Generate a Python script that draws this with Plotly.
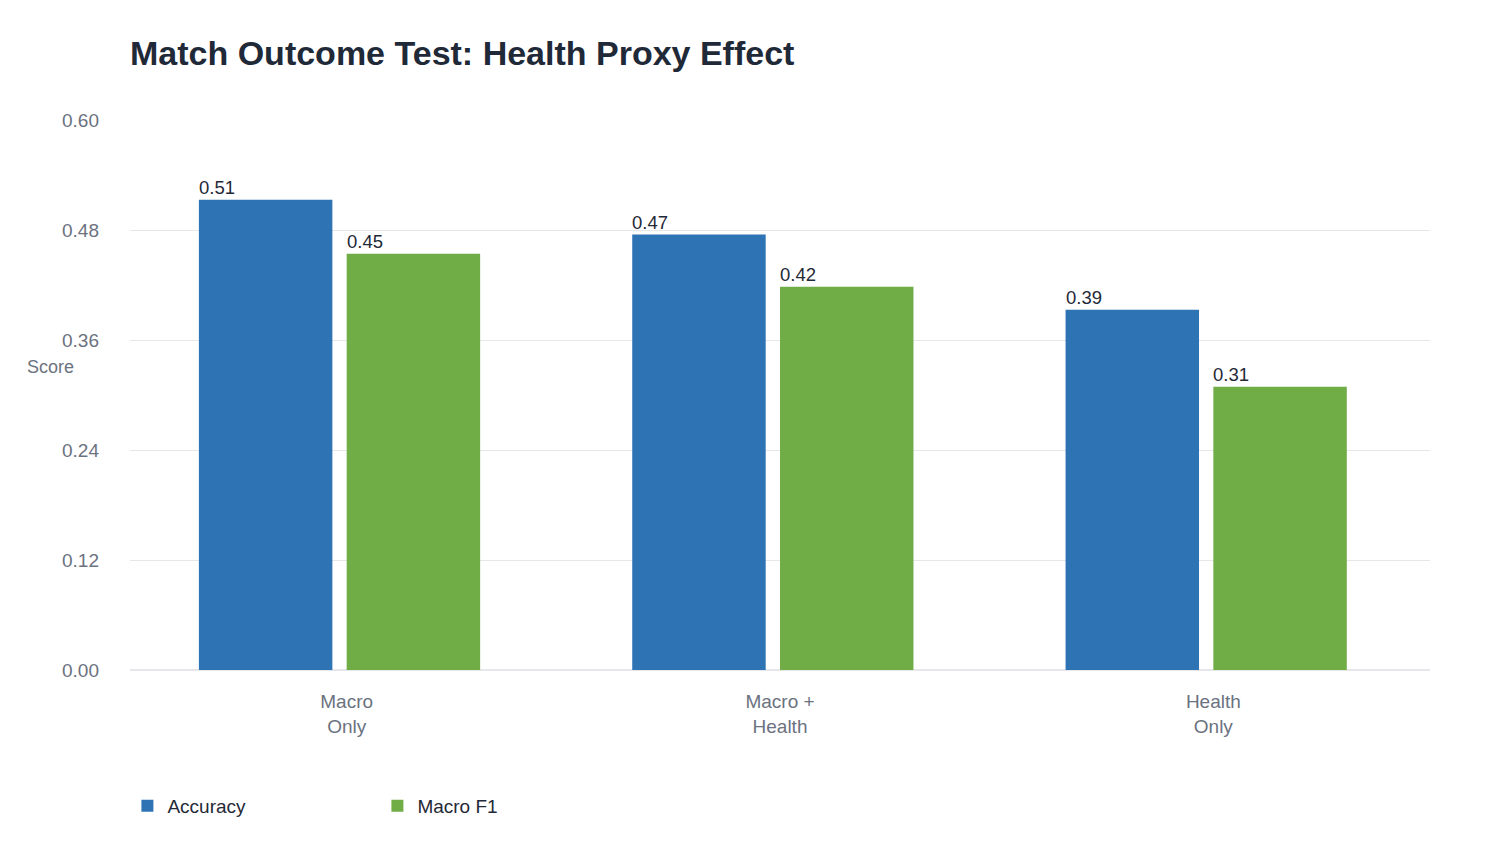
import plotly.graph_objects as go

# Dados do gráfico
categorias = ["Macro<br>Only", "Macro +<br>Health", "Health<br>Only"]
acuracia = [0.513, 0.475, 0.393]
macro_f1 = [0.454, 0.418, 0.309]
series = [("Accuracy", acuracia, "#2E74B5"), ("Macro F1", macro_f1, "#70AD47")]

FONTE = "Liberation Sans, Arial, sans-serif"

fig = go.Figure()

# Barras (deslocamento manual para imitar o agrupamento original)
deslocamentos = [-0.341, 0.0]
for (nome, valores, cor), desl in zip(series, deslocamentos):
    fig.add_trace(go.Bar(
        x=categorias,
        y=valores,
        name=nome,
        marker=dict(color=cor, line=dict(width=0)),
        offset=desl,
        width=0.308,
    ))
    # Rótulos alinhados à esquerda de cada barra
    for cat, v in zip(categorias, valores):
        fig.add_annotation(
            x=cat, y=v, text=f"{v:.2f}",
            showarrow=False, xanchor="left", yanchor="bottom",
            xshift=desl * 433.3 - 2, yshift=0,
            font=dict(family=FONTE, size=18.5, color="#1f2937"),
        )

# Título do eixo Y na horizontal
fig.add_annotation(
    text="Score", xref="paper", yref="paper", x=-0.061, y=0.551,
    showarrow=False, xanchor="center", yanchor="middle",
    font=dict(family=FONTE, size=18, color="#6b7280"),
)

fig.update_layout(
    title=dict(
        text="<b>Match Outcome Test: Health Proxy Effect</b>",
        x=122 / 1500, xanchor="left", y=1 - 45 / 850, yanchor="middle",
        font=dict(family=FONTE, size=34, color="#1f2937"),
    ),
    width=1500,
    height=850,
    margin=dict(l=122, r=78, t=112, b=188),
    plot_bgcolor="white",
    paper_bgcolor="white",
    showlegend=True,
    legend=dict(
        orientation="h", x=-0.002, xanchor="left", y=-0.247, yanchor="middle",
        entrywidth=205, entrywidthmode="pixels",
        font=dict(family=FONTE, size=19, color="#1f2937"),
    ),
    font=dict(family=FONTE),
)

fig.update_xaxes(
    showgrid=False, showline=False, ticks="",
    ticklabelstandoff=18,
    tickfont=dict(family=FONTE, size=19, color="#6b7280"),
)
fig.update_yaxes(
    range=[0, 0.6], dtick=0.12, tick0=0, tickformat=".2f",
    showgrid=True, gridcolor="#e5e7eb", gridwidth=1,
    zeroline=True, zerolinecolor="#e5e7eb", zerolinewidth=2,
    showline=False, ticks="", ticklabelstandoff=30,
    tickfont=dict(family=FONTE, size=19, color="#6b7280"),
)

fig.write_html("out.html")
